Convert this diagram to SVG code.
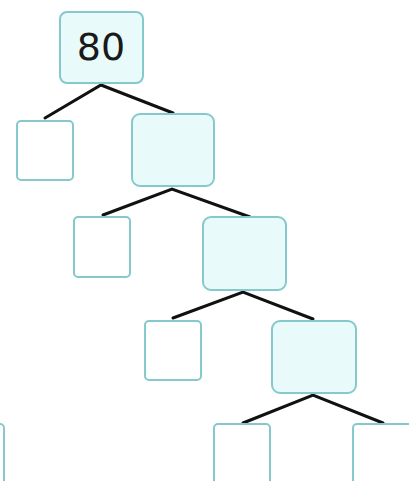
<svg xmlns="http://www.w3.org/2000/svg" width="409" height="481" viewBox="0 0 409 481">
<style>
.big{fill:#e9fafb;stroke:#86c9cc;stroke-width:2}
.small{fill:#ffffff;stroke:#86c9cc;stroke-width:2}
.edge{stroke:#111;stroke-width:3;fill:none;stroke-linecap:round}
.lbl{font-family:"DejaVu Sans",sans-serif;font-size:38px;fill:#1a1a1a;text-anchor:middle}
</style>
<rect width="409" height="481" fill="#ffffff"/>
<g id="connectors">
<polyline class="edge" points="45,118 101,85 173,113"/>
<polyline class="edge" points="103,215 172,189 250,217"/>
<polyline class="edge" points="173,318 243,292 313,319"/>
<polyline class="edge" points="243,423 313,395 383,423"/>
</g>
<g id="root"><rect class="big" x="60" y="12" width="83" height="71" rx="7"/><text class="lbl" x="101" y="60">80</text></g>
<g id="l1"><rect class="small" x="17" y="121" width="56" height="59" rx="4"/></g>
<g id="r1"><rect class="big" x="132" y="114" width="82" height="72" rx="8"/></g>
<g id="l2"><rect class="small" x="74" y="217" width="56" height="60" rx="4"/></g>
<g id="r2"><rect class="big" x="203" y="217" width="83" height="73" rx="8"/></g>
<g id="l3"><rect class="small" x="145" y="321" width="56" height="59" rx="4"/></g>
<g id="r3"><rect class="big" x="272" y="321" width="84" height="72" rx="8"/></g>
<g id="edge-left"><rect class="small" x="-52" y="424" width="56" height="70" rx="4"/></g>
<g id="l4"><rect class="small" x="214" y="424" width="56" height="70" rx="4"/></g>
<g id="r4"><rect class="small" x="353" y="424" width="70" height="70" rx="4"/></g>
</svg>
